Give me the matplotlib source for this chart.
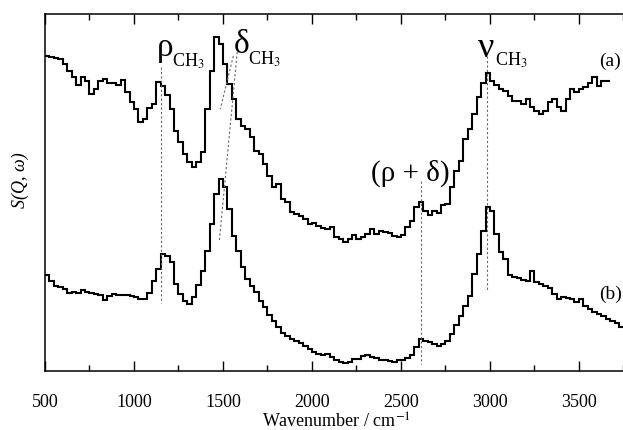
import numpy as np
import matplotlib
matplotlib.use("Agg")
import matplotlib.pyplot as plt

plt.rcParams['font.family'] = ['Liberation Serif', 'DejaVu Serif']
plt.rcParams['mathtext.fontset'] = 'stix'

# 25 cm-1 bins, intensity in arbitrary units
BIN = 25
S_a = [315, 314, 313, 312, 307, 300, 294, 286, 294, 290,
       277, 282, 290, 292, 288, 288, 286, 291, 279, 269,
       262, 249, 252, 263, 267, 289, 285, 276, 262, 240,
       229, 217, 209, 204, 209, 219, 262, 300, 334, 327,
       307, 287, 272, 252, 245, 242, 234, 220, 217, 207,
       195, 184, 187, 172, 169, 159, 157, 155, 152, 147,
       148, 145, 143, 142, 144, 134, 132, 129, 132, 136,
       132, 134, 137, 142, 137, 140, 139, 138, 135, 134,
       136, 144, 150, 164, 169, 160, 156, 160, 158, 166,
       167, 184, 200, 210, 232, 242, 257, 274, 288, 298,
       290, 286, 282, 280, 275, 270, 270, 267, 272, 264,
       260, 257, 260, 269, 272, 264, 260, 272, 282, 279,
       282, 284, 288, 294, 285, 290, 290]
S_b = [96, 90, 85, 84, 82, 78, 79, 78, 81, 79,
       78, 77, 76, 71, 75, 77, 76, 76, 76, 75,
       74, 72, 72, 78, 90, 102, 117, 115, 109, 87,
       77, 70, 67, 74, 86, 100, 120, 147, 177, 192,
       184, 162, 135, 120, 104, 92, 85, 79, 70, 64,
       56, 50, 44, 38, 35, 32, 30, 28, 25, 22,
       19, 17, 16, 17, 14, 11, 9, 8, 9, 12,
       12, 15, 16, 14, 13, 11, 11, 10, 9, 11,
       11, 13, 16, 24, 32, 30, 29, 27, 25, 27,
       30, 37, 46, 55, 65, 75, 97, 117, 140, 164,
       160, 137, 119, 112, 96, 94, 93, 91, 90, 100,
       89, 87, 85, 83, 77, 72, 74, 73, 72, 69,
       72, 65, 62, 59, 57, 55, 52, 50, 48, 44]
edges_a = 500 + BIN * np.arange(len(S_a) + 1)
edges_b = 500 + BIN * np.arange(len(S_b) + 1)

# mode positions (cm-1)
peak_rho = 1150
peak_nu = 2982
peak_comb = 2610

fig = plt.figure(figsize=(6.23, 4.31), dpi=100)
ax = fig.add_axes([45/623, 59/431, 582/623, 357/431])

ax.stairs(S_a, edges_a, baseline=None, color='black', lw=1.5)
ax.stairs(S_b, edges_b, baseline=None, color='black', lw=1.5)

guide = dict(color='#666666', lw=0.8, ls=(0, (2, 2)))
ax.plot([peak_rho, peak_rho], [304, 68], **guide)
ax.plot([peak_nu, peak_nu], [315, 80], **guide)
ax.plot([peak_comb, peak_comb], [190, 7], **guide)
ax.plot([1558, 1485], [315, 262], **guide)
ax.plot([1580, 1479], [319, 129], **guide)

ax.text(1128, 316, 'ρ', fontsize=24)
ax.text(1215, 305, r'CH$_3$', fontsize=13)
ax.text(1562, 319, 'δ', fontsize=24)
ax.text(1642, 307, r'CH$_3$', fontsize=13)
ax.text(2935, 315, 'ν', fontsize=26)
ax.text(3027, 306, r'CH$_3$', fontsize=13)
ax.text(2551, 191, '(ρ + δ)', fontsize=21, ha='center')
ax.text(3615, 306, '(a)', fontsize=14)
ax.text(3612, 73, '(b)', fontsize=14)

ax.set_xlim(500, 3770)
ax.set_ylim(0, 357)
ax.set_xticks(np.arange(500, 3751, 500))
ax.set_xticks(np.arange(750, 3751, 500), minor=True)
ax.set_yticks([])
ax.tick_params(axis='x', which='both', direction='in', top=True, bottom=True,
               labelsize=13, pad=16, width=1)
ax.tick_params(axis='x', which='major', length=7)
ax.tick_params(axis='x', which='minor', length=4)
for s in ax.spines.values():
    s.set_linewidth(1.1)

ax.set_xlabel(r'Wavenumber / cm$^{-1}$', fontsize=13, labelpad=1)
fig.text(20/623, 1 - 180/431, 'S(Q, ω)', rotation=90, fontsize=13,
         style='italic', ha='center', va='center')

fig.savefig('out.png', dpi=100)
